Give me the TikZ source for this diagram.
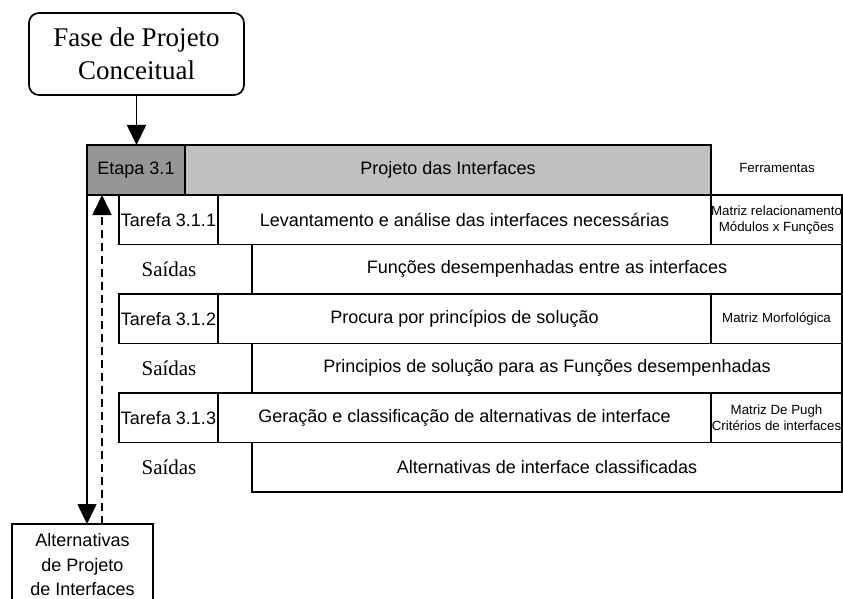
\documentclass[tikz,border=0pt]{standalone}
\usepackage{fontspec}
\usetikzlibrary{arrows.meta}
\setmainfont{Liberation Sans}
\newfontfamily\timesf{Liberation Serif}
\definecolor{etapagray}{RGB}{150, 150, 150}
\definecolor{projgray}{RGB}{192, 192, 192}
\newcommand{\fmain}{\fontsize{18}{21}\selectfont}
\newcommand{\fsmall}{\fontsize{13.3}{16}\selectfont}
\newcommand{\fsaida}{\timesf\fontsize{21}{24}\selectfont}
\newcommand{\ffase}{\timesf\fontsize{27}{33}\selectfont}

\begin{document}
\begin{tikzpicture}[x=1pt,y=-1pt,line width=1.7pt,
    cell/.style={draw,anchor=north west,inner sep=0pt,outer sep=0pt,minimum height=49.5pt,font=\fmain},
    tarefa/.style={cell,minimum width=99pt},
    desc/.style={cell,minimum width=493pt},
    saida/.style={cell,minimum width=590pt},
    tool/.style={cell,minimum width=131pt,align=center,font=\fsmall},
    seta/.style={-{Triangle[length=20pt,width=19pt]}}]
      \clip (0,0) rectangle (843,599);
      %\draw[step=50,gray,very thin] (0,0) grid (843,599);
      \node[cell,rounded corners=10pt,minimum width=215pt,minimum height=82pt,align=center,font=\ffase] (fase) at (29,13) {Fase de Projeto\\Conceitual};
      \node[cell,fill=etapagray,minimum width=98pt,minimum height=50pt] (etapa) at (87,145) {Etapa 3.1};
      \node[cell,fill=projgray,minimum width=526pt,minimum height=50pt] (projeto) at (185,145) {Projeto das Interfaces};
      \node[font=\fsmall] (ferr) at (777,168) {Ferramentas};
      % tarefa 3.1.1
      \node[tarefa] (t1) at (119,195) {Tarefa 3.1.1};
      \node[desc] (d1) at (218,195) {Levantamento e análise das interfaces necessárias};
      \node[tool] (f1) at (711,195) {Matriz relacionamento\\Módulos x Funções};
      \node[font=\fsaida] (s1) at (169,269.25) {Saídas};
      \node[saida] (o1) at (252,244.5) {Funções desempenhadas entre as interfaces};
      % tarefa 3.1.2
      \node[tarefa] (t2) at (119,294) {Tarefa 3.1.2};
      \node[desc] (d2) at (218,294) {Procura por princípios de solução};
      \node[tool] (f2) at (711,294) {Matriz Morfológica};
      \node[font=\fsaida] (s2) at (169,368.25) {Saídas};
      \node[saida] (o2) at (252,343.5) {Principios de solução para as Funções desempenhadas};
      % tarefa 3.1.3
      \node[tarefa] (t3) at (119,393) {Tarefa 3.1.3};
      \node[desc] (d3) at (218,393) {Geração e classificação de alternativas de interface};
      \node[tool] (f3) at (711,393) {Matriz De Pugh\\Critérios de interfaces};
      \node[font=\fsaida] (s3) at (169,467.25) {Saídas};
      \node[saida] (o3) at (252,442.5) {Alternativas de interface classificadas};
      % saida da etapa
      \node[cell,minimum width=141pt,minimum height=82pt,align=center,font={\fontsize{18}{24.5}\selectfont}] (alt) at (12,524) {Alternativas\\de Projeto\\de Interfaces};
      \draw[seta] (fase.south) -- (fase.south |- etapa.north);
      \draw[seta] (etapa.south west) -- (etapa.south west |- alt.north);
      \draw[seta,dash pattern=on 8pt off 5pt] ([xshift=15pt]etapa.south west |- alt.north) -- ([xshift=15pt]etapa.south west);
\end{tikzpicture}
\end{document}
